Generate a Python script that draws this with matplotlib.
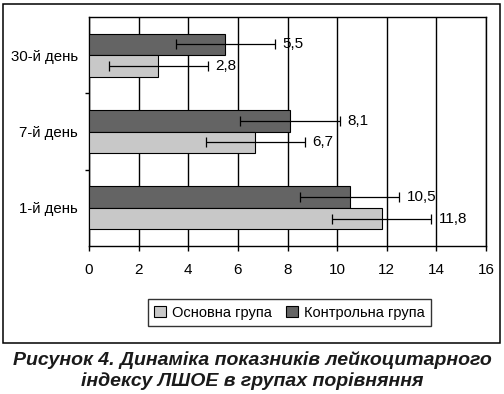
import numpy as np
import matplotlib
matplotlib.use('Agg')
import matplotlib.pyplot as plt
from matplotlib.patches import Rectangle

plt.rcParams['font.family'] = ['Liberation Sans', 'DejaVu Sans']

# дані (знизу вгору, як на рисунку)
days = ['1-й день', '7-й день', '30-й день']
main_group = [11.8, 6.7, 2.8]      # Основна група
control_group = [10.5, 8.1, 5.5]   # Контрольна група
main_err = [2.0, 2.0, 2.0]
control_err = [2.0, 2.0, 2.0]
x_ticks = [0, 2, 4, 6, 8, 10, 12, 14, 16]

COLORS = {
    'main': '#c8c8c8',
    'control': '#646464',
    'caption': '#1a1a1a',
}

fig = plt.figure(figsize=(5.04, 3.94), dpi=100)
fig.patch.set_facecolor('white')

# зовнішня рамка
fig.patches.append(Rectangle((3 / 504, 1 - 343 / 394), 497 / 504, 339.5 / 394,
                             transform=fig.transFigure, fill=False,
                             edgecolor='black', linewidth=1.1, zorder=0))

ax = fig.add_axes([89 / 504, 1 - 246 / 394, 397 / 504, 229 / 394])

y = np.arange(len(days))
h = 0.283

ax.barh(y + h / 2, control_group, height=h, color=COLORS['control'],
        edgecolor='black', linewidth=0.8, zorder=3, label='Контрольна група')
ax.barh(y - h / 2, main_group, height=h, color=COLORS['main'],
        edgecolor='black', linewidth=0.8, zorder=3, label='Основна група')

ax.errorbar(control_group, y + h / 2, xerr=control_err, fmt='none',
            ecolor='black', elinewidth=0.9, capsize=3.6, capthick=0.9, zorder=4)
ax.errorbar(main_group, y - h / 2, xerr=main_err, fmt='none',
            ecolor='black', elinewidth=0.9, capsize=3.6, capthick=0.9, zorder=4)

# підписи значень
for yy, v, e in zip(y + h / 2, control_group, control_err):
    ax.annotate(f'{v:.1f}'.replace('.', ','), xy=(v + e, yy), xytext=(5.5, 0),
                textcoords='offset points', ha='left', va='center', fontsize=11)
for yy, v, e in zip(y - h / 2, main_group, main_err):
    ax.annotate(f'{v:.1f}'.replace('.', ','), xy=(v + e, yy), xytext=(5.5, 0),
                textcoords='offset points', ha='left', va='center', fontsize=11)

ax.set_xlim(0, 16)
ax.set_ylim(-0.5, 2.5)
ax.set_xticks(x_ticks)
ax.set_xticklabels([str(t) for t in x_ticks], fontsize=11)
ax.set_yticks(y)
ax.set_yticklabels(days, fontsize=10.8)
ax.set_yticks([0.5, 1.5], minor=True)
ax.tick_params(axis='y', which='major', length=0, pad=8)
ax.tick_params(axis='y', which='minor', length=3, width=1, direction='out')
ax.tick_params(axis='x', length=3.5, width=1, direction='out', pad=9)

ax.grid(True, axis='x', color='black', linewidth=1, zorder=0)
ax.set_axisbelow(True)
for sp in ax.spines.values():
    sp.set_linewidth(1)
    sp.set_color('black')

handles, labels = ax.get_legend_handles_labels()
leg = fig.legend(handles[::-1], labels[::-1], loc='center',
                 bbox_to_anchor=(289.5 / 504, 1 - 312.5 / 394), ncol=2,
                 fontsize=10.5, frameon=True, fancybox=False,
                 edgecolor='black', handlelength=0.8, handleheight=0.8,
                 handletextpad=0.4, columnspacing=1.0, borderpad=0.45)
leg.get_frame().set_linewidth(1)

fig.text(0.5, 1 - 360 / 394, 'Рисунок 4. Динаміка показників лейкоцитарного',
         ha='center', va='center', fontsize=14, fontweight='bold',
         fontstyle='italic', color=COLORS['caption'])
fig.text(0.5, 1 - 381 / 394, 'індексу ЛШОЕ в групах порівняння',
         ha='center', va='center', fontsize=14, fontweight='bold',
         fontstyle='italic', color=COLORS['caption'])

fig.savefig('out.png', dpi=100, facecolor=fig.get_facecolor())
